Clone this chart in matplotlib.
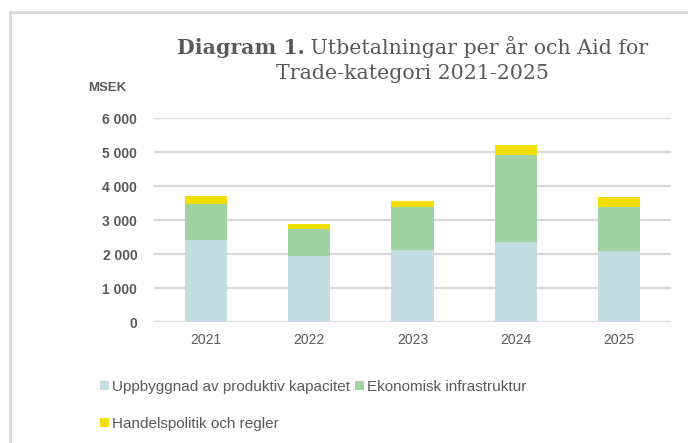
import matplotlib
matplotlib.use("Agg")
import matplotlib.pyplot as plt
from matplotlib.patches import Patch
from matplotlib.lines import Line2D
import numpy as np

# data (MSEK)
years = ["2021", "2022", "2023", "2024", "2025"]
produktiv = [2410, 1950, 2120, 2350, 2090]
infrastruktur = [1070, 790, 1270, 2570, 1300]
handelspolitik = [230, 140, 170, 290, 290]
series_names = ["Uppbyggnad av produktiv kapacitet",
                "Ekonomisk infrastruktur",
                "Handelspolitik och regler"]
yticks = [0, 1000, 2000, 3000, 4000, 5000, 6000]

colors = ["#C3DDE2", "#A1D3A2", "#F2DE00"]
grey = "#595959"
W, H = 688, 443

fig = plt.figure(figsize=(W / 100, H / 100), dpi=100)
ax = fig.add_axes([154 / W, 1 - 322 / H, 517 / W, 204 / H])

x = np.arange(len(years))
bottom = np.zeros(len(years))
for vals, c in zip([produktiv, infrastruktur, handelspolitik], colors):
    ax.bar(x, vals, width=0.41, bottom=bottom, color=c, zorder=3)
    bottom += np.array(vals)

ax.set_xlim(-0.5, len(years) - 0.5)
ax.set_ylim(0, 6000)
ax.set_yticks(yticks)
ax.set_yticklabels([f"{v:,}".replace(",", " ") for v in yticks])
ax.set_xticks(x)
ax.set_xticklabels(years)
for s in ax.spines.values():
    s.set_visible(False)
ax.yaxis.grid(True, color="#D9D9D9", linewidth=1.6, zorder=0)
ax.tick_params(length=0)
ax.tick_params(axis="y", pad=12, labelsize=10, labelcolor=grey)
ax.tick_params(axis="x", pad=8, labelsize=10, labelcolor=grey)
for lbl in ax.get_yticklabels():
    lbl.set_fontweight("bold")
    lbl.set_fontfamily("Liberation Sans")
for lbl in ax.get_xticklabels():
    lbl.set_fontfamily("Liberation Sans")

fig.text(88 / W, 1 - 88 / H, "MSEK", fontsize=9.5, fontweight="bold",
         color=grey, family="Liberation Sans", va="center")

# title: bold "Diagram 1." followed by normal text, centred over plot area
fig.canvas.draw()
r = fig.canvas.get_renderer()
tsize = 14.8
t1 = fig.text(0, 1 - 54 / H, "Diagram 1.", fontsize=tsize, fontweight="bold",
              family="DejaVu Serif", color=grey, va="baseline")
t2 = fig.text(0, 1 - 54 / H, " Utbetalningar per år och Aid for", fontsize=tsize,
              family="DejaVu Serif", color=grey, va="baseline")
w1 = t1.get_window_extent(r).width
w2 = t2.get_window_extent(r).width
cx = 412.5
x0 = cx - (w1 + w2) / 2
t1.set_x(x0 / W)
t2.set_x((x0 + w1) / W)
fig.text(cx / W, 1 - 79 / H, "Trade-kategori 2021-2025", fontsize=tsize,
         family="DejaVu Serif", color=grey, va="baseline", ha="center")

# legend
handles = [Patch(facecolor=c, edgecolor="none") for c in colors]
order = [0, 2, 1]
leg = fig.legend([handles[i] for i in order], [series_names[i] for i in order],
                 ncol=2, loc="upper left", bbox_to_anchor=(100 / W, 1 - 380 / H),
                 frameon=False, fontsize=11, handlelength=0.6, handleheight=0.6,
                 handletextpad=0.2, columnspacing=0.3, labelspacing=1.5,
                 borderpad=0, borderaxespad=0)
for t in leg.get_texts():
    t.set_color(grey)
    t.set_fontfamily("Liberation Sans")

# chart frame (left and top edges visible)
fig.add_artist(Line2D([10 / W, 10 / W], [0, 1 - 12 / H], color="#D9D9D9", lw=2,
                      transform=fig.transFigure))
fig.add_artist(Line2D([10 / W, 1], [1 - 12 / H, 1 - 12 / H], color="#D9D9D9", lw=2,
                      transform=fig.transFigure))

fig.savefig("out.png", dpi=100)
